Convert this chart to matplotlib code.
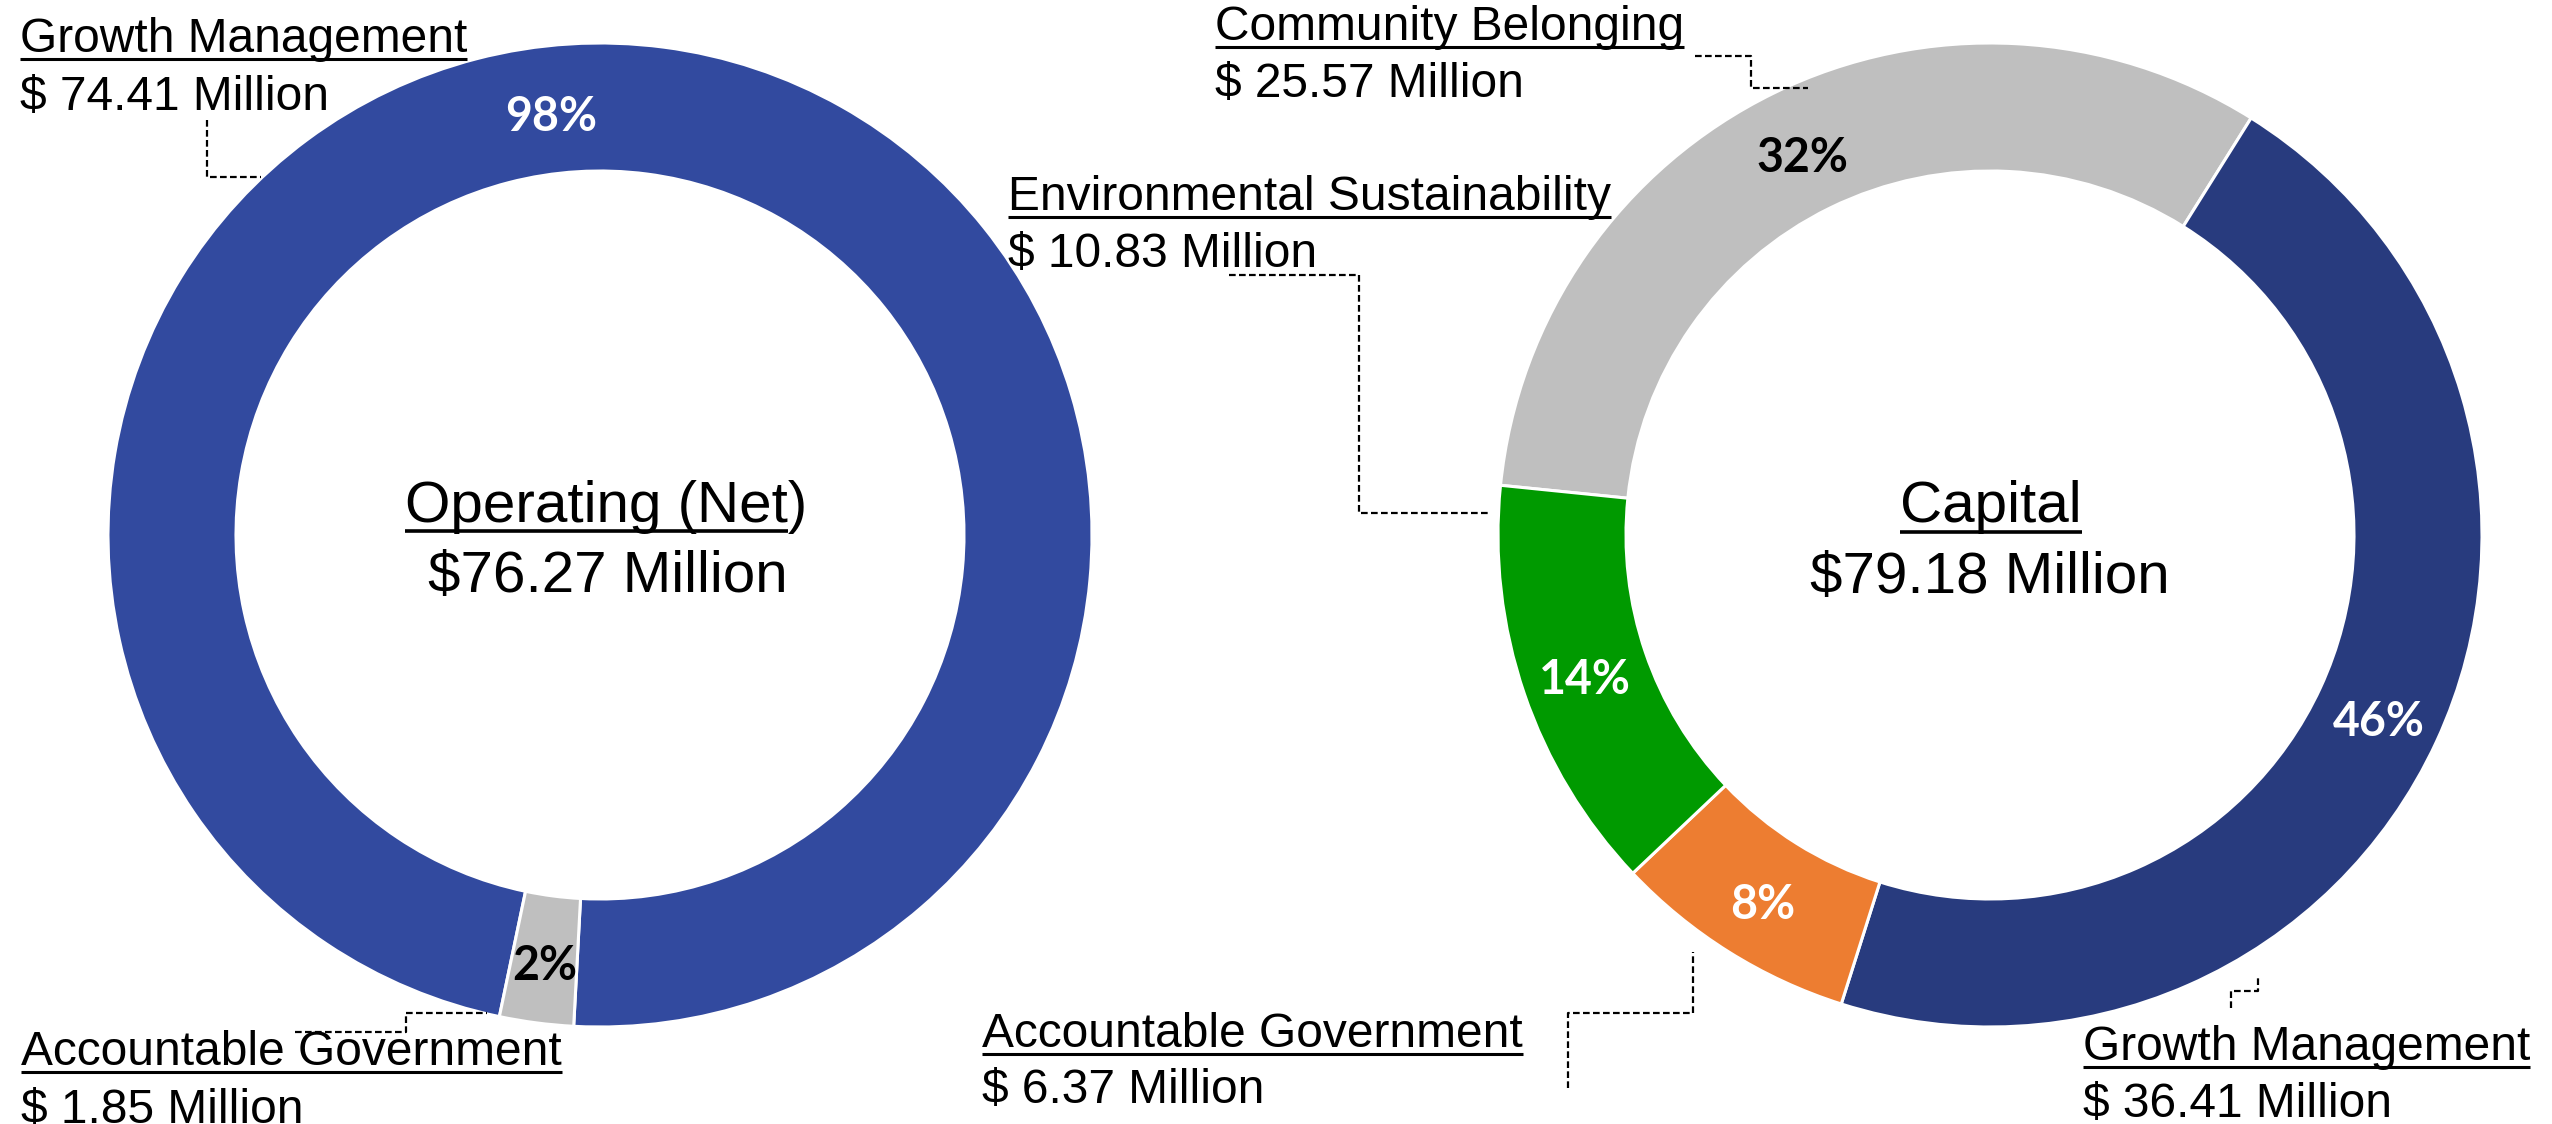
import matplotlib
matplotlib.use("Agg")
import matplotlib.pyplot as plt
import numpy as np

# ---------------- data ----------------
op_title = "Operating (Net)"
op_total = "$76.27 Million"
op_categories = ["Growth Management", "Accountable Government"]
op_values = [74.41, 1.85]
op_amount_labels = ["$ 74.41 Million", "$ 1.85 Million"]
op_pct_labels = ["98%", "2%"]

cap_title = "Capital"
cap_total = "$79.18 Million"
cap_categories = ["Community Belonging", "Growth Management",
                  "Accountable Government", "Environmental Sustainability"]
cap_values = [25.57, 36.41, 6.37, 10.83]
cap_amount_labels = ["$ 25.57 Million", "$ 36.41 Million",
                     "$ 6.37 Million", "$ 10.83 Million"]
cap_pct_labels = ["32%", "46%", "8%", "14%"]

# ---------------- style / layout ----------------
W, H = 2552, 1124
FONT = ["Liberation Sans", "DejaVu Sans"]
PFONT = ["Lato", "DejaVu Sans"]
op_colors = ["#324A9F", "#BFBFBF"]
cap_colors = ["#BFBFBF", "#283B7E", "#ED7D31", "#009A00"]
op_pct_colors = ["white", "black"]
cap_pct_colors = ["black", "white", "white", "white"]
op_pct_angle_override = [96.5, None]
cap_pct_angle_override = [None, None, None, None]

R = 492
RING = 128
LABEL_R = 428
PCT_DY = -7          # small downward nudge of percentage labels (pixels)
op_center_yd = (600, 535)
cap_center_yd = (1990, 535)
op_start = 258.2
cap_start = 174.2

def Y(yd):
    return H - yd

fig = plt.figure(figsize=(W / 100, H / 100), dpi=100)
ax = fig.add_axes([0, 0, 1, 1])


def donut(center_yd, values, colors, start, pct_labels, pct_colors, overrides):
    c = (center_yd[0], Y(center_yd[1]))
    wedges, _ = ax.pie(values, colors=colors, startangle=start, counterclock=False,
                       radius=R, center=c, frame=True,
                       wedgeprops=dict(width=RING, edgecolor="white", linewidth=2.2))
    for w, lab, col, ov in zip(wedges, pct_labels, pct_colors, overrides):
        ang = ov if ov is not None else (w.theta1 + w.theta2) / 2.0
        a = np.deg2rad(ang)
        ax.text(c[0] + LABEL_R * np.cos(a), c[1] + LABEL_R * np.sin(a) + PCT_DY, lab,
                ha="center", va="center", color=col, fontsize=33.5,
                fontweight="bold", family=PFONT)
    return wedges


donut(op_center_yd, op_values, op_colors, op_start, op_pct_labels, op_pct_colors,
      op_pct_angle_override)
donut(cap_center_yd, cap_values, cap_colors, cap_start, cap_pct_labels, cap_pct_colors,
      cap_pct_angle_override)

ax.set_xlim(0, W)
ax.set_ylim(0, H)
ax.set_aspect("equal")
ax.axis("off")

fig.canvas.draw()
renderer = fig.canvas.get_renderer()
inv = ax.transData.inverted()


def text_width_data(s, size):
    tmp = ax.text(0, 0, s, fontsize=size, family=FONT)
    bb = tmp.get_window_extent(renderer)
    tmp.remove()
    p0 = inv.transform((bb.x0, bb.y0))
    p1 = inv.transform((bb.x1, bb.y0))
    return p1[0] - p0[0]


def underlined(x, yb, s, size, ha="left", ul_sub=None, ul_off=7, ul_lw=2.2):
    t = ax.text(x, Y(yb), s, fontsize=size, family=FONT, ha=ha, va="baseline",
                color="black")
    bb = t.get_window_extent(renderer)
    x0 = inv.transform((bb.x0, bb.y0))[0]
    x1 = inv.transform((bb.x1, bb.y0))[0]
    if ul_sub is not None:
        x1 = x0 + text_width_data(ul_sub, size)
    ax.plot([x0, x1], [Y(yb + ul_off)] * 2, color="black", lw=ul_lw,
            solid_capstyle="butt")


def plain(x, yb, s, size, ha="left"):
    ax.text(x, Y(yb), s, fontsize=size, family=FONT, ha=ha, va="baseline",
            color="black")


LBL = 34.5
CTR = 42

# centre titles
underlined(606, 522, op_title, CTR, ha="center", ul_sub="Operating (Net", ul_off=9, ul_lw=2.6)
plain(608, 592, op_total, CTR, ha="center")
underlined(1991, 522, cap_title, CTR, ha="center", ul_off=10, ul_lw=2.6)
plain(1990, 593, cap_total, CTR, ha="center")

# category labels: (x, baseline1, baseline2)
op_label_pos = [(20, 52, 110), (21, 1065, 1123)]
cap_label_pos = [(1215, 40, 97), (2083, 1060, 1117), (982, 1047, 1103), (1008, 210, 267)]

for (x, b1, b2), cat, amt in zip(op_label_pos, op_categories, op_amount_labels):
    underlined(x, b1, cat, LBL)
    plain(x, b2, amt, LBL)
for (x, b1, b2), cat, amt in zip(cap_label_pos, cap_categories, cap_amount_labels):
    underlined(x, b1, cat, LBL)
    plain(x, b2, amt, LBL)

# leader lines (y measured downward from top, in pixels)
leaders = [
    [(207, 120), (207, 177), (261, 177)],
    [(295, 1032), (406, 1032), (406, 1013), (487, 1013)],
    [(1695, 56), (1751, 56), (1751, 88), (1808, 88)],
    [(1229, 275), (1359, 275), (1359, 513), (1489, 513)],
    [(1568, 1088), (1568, 1013), (1693, 1013), (1693, 952)],
    [(2231, 1008), (2231, 991), (2258, 991), (2258, 975)],
]
for path in leaders:
    xs = [p[0] for p in path]
    ys = [Y(p[1]) for p in path]
    ax.plot(xs, ys, color="black", lw=1.6, linestyle=(0, (3, 1.5)))

fig.savefig("out.png", dpi=100, facecolor="white")
